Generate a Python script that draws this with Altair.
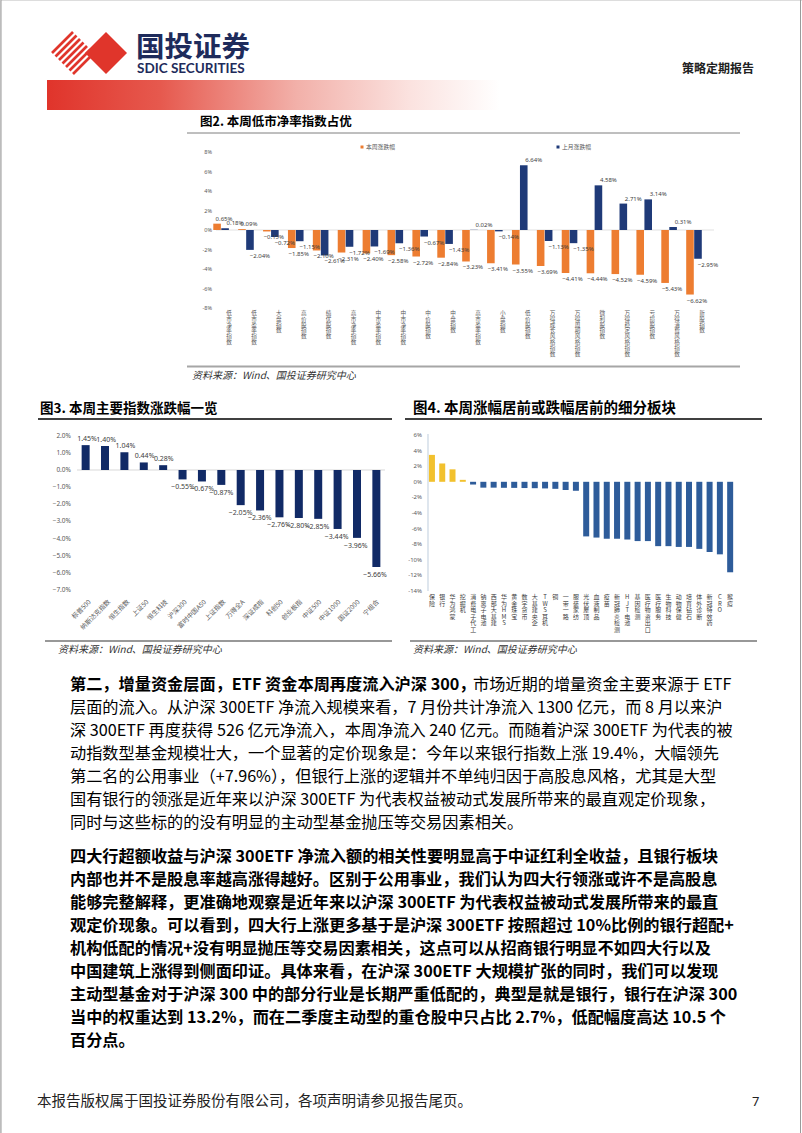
import altair as alt
import pandas as pd

W, H = 802, 1133
CJK = "Noto Sans CJK SC"
LAT = "Noto Sans"
ORANGE = "#ED7D31"
NAVY2 = "#1F3A78"
NAVY3 = "#112A66"
BLUE4 = "#2E5C9A"
GOLD4 = "#F2C12E"
LBL = "#404040"

# ---------------- data ----------------
c2_cats = ["低市净率指数", "低市盈率指数", "大盘指数", "高价股指数", "绩优股指数",
           "高市净率指数", "中市盈率指数", "中市净率指数", "中价股指数", "中盘指数",
           "高市盈率指数", "小盘指数", "低价股指数", "万得成长风格指数", "万得周期风格指数",
           "微利股指数", "万得稳定风格指数", "亏损股指数", "万得消费风格指数", "新股指数"]
c2_week = [0.65, 0.09, -0.15, -1.85, -2.10, -2.31, -2.40, -2.58, -2.72, -2.84,
           -3.23, -3.41, -3.55, -3.69, -4.41, -4.44, -4.52, -4.59, -5.43, -6.62]
c2_month = [0.18, -2.04, -0.72, -1.15, -2.61, -1.72, -1.69, -1.36, -0.67, -1.43,
            0.02, -0.14, 6.64, -1.13, -1.35, 4.58, 2.71, 3.14, 0.31, -2.95]
c2_ticks = [8, 6, 4, 2, 0, -2, -4, -6, -8]

c3_cats = ["标普500", "纳斯达克指数", "恒生指数", "上证50", "恒生科技", "沪深300",
           "富时中国A50", "上证指数", "万得全A", "深证成指", "科创50", "创业板指",
           "中证500", "中证1000", "国证2000", "宁组合"]
c3_vals = [1.45, 1.40, 1.04, 0.44, 0.28, -0.55, -0.67, -0.87, -2.05, -2.36,
           -2.76, -2.80, -2.85, -3.44, -3.96, -5.66]
c3_ticks = [2, 1, 0, -1, -2, -3, -4, -5, -6, -7]

c4_cats = ["保险", "银行", "华为鸿蒙", "挖掘机", "消费电子代工", "钠离子电池", "西部大基建",
           "华为HMS", "黄金珠宝", "数字货币", "大基建央企", "TWS耳机", "铜", "一带一路",
           "服装家纺", "光伏屋顶", "血液制品", "疫苗", "新冠肺炎检测", "HJT电池", "基因检测",
           "医疗物资出口", "医疗服务", "生物科技", "动物保健", "培育钻石", "体外诊断",
           "新冠特效药", "CRO", "猴痘"]
c4_vals = [3.45, 2.35, 1.6, 0.25, -0.35, -0.75, -0.75, -0.77, -0.78, -0.8, -0.82,
           -0.85, -0.9, -1.05, -1.15, -7.0, -7.15, -7.3, -7.3, -7.4, -7.6, -7.6,
           -8.25, -8.25, -8.35, -8.35, -8.6, -9.0, -9.3, -11.6]
c4_ticks = [6, 4, 2, 0, -2, -4, -6, -8, -10, -12, -14]

p1_bold = "第二，增量资金层面，ETF 资金本周再度流入沪深 300，"
p1_first = "市场近期的增量资金主要来源于 ETF"
p1_lines = [
    "层面的流入。从沪深 300ETF 净流入规模来看，7 月份共计净流入 1300 亿元，而 8 月以来沪",
    "深 300ETF 再度获得 526 亿元净流入，本周净流入 240 亿元。而随着沪深 300ETF 为代表的被",
    "动指数型基金规模壮大，一个显著的定价现象是：今年以来银行指数上涨 19.4%，大幅领先",
    "第二名的公用事业（+7.96%），但银行上涨的逻辑并不单纯归因于高股息风格，尤其是大型",
    "国有银行的领涨是近年来以沪深 300ETF 为代表权益被动式发展所带来的最直观定价现象，",
    "同时与这些标的的没有明显的主动型基金抛压等交易因素相关。",
]
p2_lines = [
    "四大行超额收益与沪深 300ETF 净流入额的相关性要明显高于中证红利全收益，且银行板块",
    "内部也并不是股息率越高涨得越好。区别于公用事业，我们认为四大行领涨或许不是高股息",
    "能够完整解释，更准确地观察是近年来以沪深 300ETF 为代表权益被动式发展所带来的最直",
    "观定价现象。可以看到，四大行上涨更多基于是沪深 300ETF 按照超过 10%比例的银行超配+",
    "机构低配的情况+没有明显抛压等交易因素相关，这点可以从招商银行明显不如四大行以及",
    "中国建筑上涨得到侧面印证。具体来看，在沪深 300ETF 大规模扩张的同时，我们可以发现",
    "主动型基金对于沪深 300 中的部分行业是长期严重低配的，典型是就是银行，银行在沪深 300",
    "当中的权重达到 13.2%，而在二季度主动型的重仓股中只占比 2.7%，低配幅度高达 10.5 个",
    "百分点。",
]

# ---------------- helpers ----------------
dummy = pd.DataFrame({"a": [0]})


def rule(x1, y1, x2, y2, color, w):
    return alt.Chart(dummy).mark_rule(color=color, strokeWidth=w).encode(
        x=alt.value(x1), y=alt.value(y1), x2=alt.value(x2), y2=alt.value(y2))


def text(s, x, y, size, color="#000000", weight="normal", align="left",
         baseline="alphabetic", font=CJK, style="normal", lh=None):
    kw = dict(align=align, baseline=baseline, fontSize=size, font=font,
              color=color, fontWeight=weight, fontStyle=style)
    if lh:
        kw["lineBreak"] = "\n"
        kw["lineHeight"] = lh
    return alt.Chart(pd.DataFrame({"t": [s]})).mark_text(**kw).encode(
        x=alt.value(x), y=alt.value(y), text="t:N")


layers = []

# ---------------- header ----------------
layers.append(rule(1, 0, 1, H, "#9a9a9a", 1))
layers.append(rule(800.5, 0, 800.5, H, "#9a9a9a", 1))

cx, cy, r = 73, 53, 21
for k in range(7):
    t = -r + 2 * r * k / 6
    u1, v1 = (t + r) / 2, (t - r) / 2
    u2, v2 = (t - r) / 2, (t + r) / 2
    layers.append(rule(cx + u1, cy + v1, cx + u2, cy + v2, "#E0352B", 2.6))
diamond = "M0,-1L1,0L0,1L-1,0Z"
layers.append(alt.Chart(dummy).mark_point(shape=diamond, filled=True, color="#E0352B",
                                           opacity=1, size=(2 * 21) ** 2).encode(
    x=alt.value(106), y=alt.value(53)))

layers.append(text("国投证券", 136, 57, 28.5, color="#1E2B5B", weight="bold"))
layers.append(text("SDIC SECURITIES", 137, 73, 13.5, color="#1E2B5B", weight="bold", font="Lato"))
layers.append(alt.Chart(dummy).mark_rect(
    color=alt.Gradient(gradient="linear", x1=0, x2=1, y1=0, y2=0,
                       stops=[alt.GradientStop(offset=0, color="#E0342B"),
                              alt.GradientStop(offset=0.25, color="#E6594E"),
                              alt.GradientStop(offset=0.55, color="#F2B0A9"),
                              alt.GradientStop(offset=0.8, color="#FBE2DF"),
                              alt.GradientStop(offset=1, color="#FFFFFF")])).encode(
    x=alt.value(47), x2=alt.value(500), y=alt.value(80), y2=alt.value(110)))
layers.append(text("策略定期报告", 682, 73, 12, color="#222222", weight="bold"))

# ---------------- chart 2 ----------------
layers.append(text("图2. 本周低市净率指数占优", 200, 126, 12.5, weight="bold"))
layers.append(rule(187, 133, 740, 133, "#7f7f7f", 1))
layers.append(rule(187, 366.5, 740, 366.5, "#a6a6a6", 2.2))
layers.append(text("资料来源：Wind、国投证券研究中心", 192, 379, 10, color="#333333", style="italic"))

df2 = pd.DataFrame({"cat": c2_cats, "week": c2_week, "month": c2_month})
df2["vlab"] = ["\n".join(c) for c in c2_cats]
X2 = alt.X("cat:N", scale=alt.Scale(domain=c2_cats, range=[216.6, 714.4],
                                    paddingInner=0.36, paddingOuter=0.18), axis=None)
S2 = alt.Scale(domain=[-8, 8], range=[308, 152], nice=False, zero=False)


def Y2(f):
    return alt.Y(f, scale=S2, axis=None)


base2 = alt.Chart(df2)
layers.append(alt.Chart(dummy).mark_rule(color="#d9d9d9", strokeWidth=0.8).encode(
    x=alt.value(216), x2=alt.value(714), y=alt.Y(datum=0, scale=S2, axis=None)))
layers.append(base2.mark_bar(color=ORANGE, width=7.6).encode(
    x=X2, xOffset=alt.value(-4), y=Y2("week:Q"), y2=alt.datum(0)))
layers.append(base2.mark_bar(color=NAVY2, width=7.6).encode(
    x=X2, xOffset=alt.value(4), y=Y2("month:Q"), y2=alt.datum(0)))
for fld, off in (("week", -5), ("month", 6)):
    layers.append(base2.transform_filter(f"datum.{fld} >= 0").transform_calculate(
        l=f"format(datum.{fld}, '.2f') + '%'").mark_text(
        fontSize=6, baseline="bottom", dy=-2, font=LAT, color=LBL).encode(
        x=X2, xOffset=alt.value(off), y=Y2(f"{fld}:Q"), text="l:N"))
    layers.append(base2.transform_filter(f"datum.{fld} < 0").transform_calculate(
        l=f"format(datum.{fld}, '.2f') + '%'").mark_text(
        fontSize=6, baseline="top", dy=3, font=LAT, color=LBL).encode(
        x=X2, xOffset=alt.value(off), y=Y2(f"{fld}:Q"), text="l:N"))
layers.append(alt.Chart(pd.DataFrame({"v": c2_ticks})).transform_calculate(
    l="datum.v + '%'").mark_text(align="right", baseline="middle", fontSize=5.5,
                                 font=LAT, color="#595959").encode(
    x=alt.value(212), y=Y2("v:Q"), text="l:N"))
layers.append(base2.mark_text(baseline="top", fontSize=5.6, lineBreak="\n", lineHeight=5.8,
                              font=CJK, color="#595959").encode(
    x=X2, y=alt.value(311), text="vlab:N"))
layers.append(alt.Chart(dummy).mark_square(color=ORANGE, size=9, opacity=1).encode(
    x=alt.value(362), y=alt.value(147)))
layers.append(text("本周涨跌幅", 366, 147, 5.8, color="#595959", baseline="middle"))
layers.append(alt.Chart(dummy).mark_square(color=NAVY2, size=9, opacity=1).encode(
    x=alt.value(558), y=alt.value(147)))
layers.append(text("上月涨跌幅", 562, 147, 5.8, color="#595959", baseline="middle"))

# ---------------- chart 3 ----------------
layers.append(text("图3. 本周主要指数涨跌幅一览", 40, 413, 13.5, weight="bold"))
layers.append(rule(38, 419, 392, 419, "#404040", 2))
layers.append(rule(45, 641, 392, 641, "#333333", 1.2))
layers.append(text("资料来源：Wind、国投证券研究中心", 58, 653, 10, color="#333333", style="italic"))

df3 = pd.DataFrame({"cat": c3_cats, "v": c3_vals})
X3 = alt.X("cat:N", scale=alt.Scale(domain=c3_cats, range=[77.4, 384.6],
                                    paddingInner=0.55, paddingOuter=0.2), axis=None)
S3 = alt.Scale(domain=[-7, 2], range=[590, 435.7], nice=False, zero=False)


def Y3(f):
    return alt.Y(f, scale=S3, axis=None)


base3 = alt.Chart(df3)
layers.append(alt.Chart(dummy).mark_rule(color="#d9d9d9", strokeWidth=1).encode(
    x=alt.value(77), x2=alt.value(385), y=alt.Y(datum=0, scale=S3, axis=None)))
layers.append(base3.mark_bar(color=NAVY3, width=8).encode(x=X3, y=Y3("v:Q"), y2=alt.datum(0)))
layers.append(base3.transform_filter("datum.v >= 0").transform_calculate(
    l="format(datum.v, '.2f') + '%'").mark_text(
    fontSize=7, baseline="bottom", dy=-3, font=LAT, color=LBL).encode(
    x=X3, y=Y3("v:Q"), text="l:N"))
layers.append(base3.transform_filter("datum.v < 0").transform_calculate(
    l="format(datum.v, '.2f') + '%'").mark_text(
    fontSize=7, baseline="top", dy=4, font=LAT, color=LBL).encode(
    x=X3, y=Y3("v:Q"), text="l:N"))
layers.append(alt.Chart(pd.DataFrame({"v": c3_ticks})).transform_calculate(
    l="format(datum.v, '.1f') + '%'").mark_text(align="right", baseline="middle", fontSize=6.5,
                                                font=LAT, color="#595959").encode(
    x=alt.value(71), y=Y3("v:Q"), text="l:N"))
layers.append(base3.mark_text(angle=315, align="right", baseline="middle", fontSize=6.5,
                              font=CJK, color="#595959").encode(
    x=X3, xOffset=alt.value(3), y=alt.value(601), text="cat:N"))

# ---------------- chart 4 ----------------
layers.append(text("图4. 本周涨幅居前或跌幅居前的细分板块", 413, 413, 14.5, weight="bold"))
layers.append(rule(405, 419, 762, 419, "#404040", 2))
layers.append(rule(410, 641, 757, 641, "#333333", 1.2))
layers.append(text("资料来源：Wind、国投证券研究中心", 413, 653, 10, color="#333333", style="italic"))

df4 = pd.DataFrame({"cat": c4_cats, "v": c4_vals})
df4["vlab"] = ["\n".join(c) for c in c4_cats]
X4 = alt.X("cat:N", scale=alt.Scale(domain=c4_cats, range=[426.9, 735.2],
                                    paddingInner=0.42, paddingOuter=0.2), axis=None)
S4 = alt.Scale(domain=[-14, 6], range=[591, 435], nice=False, zero=False)


def Y4(f):
    return alt.Y(f, scale=S4, axis=None)


base4 = alt.Chart(df4)
layers.append(rule(428, 434, 428, 591, "#c9d5e3", 1.2))
layers.append(base4.mark_bar(width=6).encode(
    x=X4, y=Y4("v:Q"), y2=alt.datum(0),
    color=alt.condition("datum.v >= 0", alt.value(GOLD4), alt.value(BLUE4))))
layers.append(alt.Chart(pd.DataFrame({"v": c4_ticks})).transform_calculate(
    l="datum.v + '%'").mark_text(align="right", baseline="middle", fontSize=6,
                                 font=LAT, color="#595959").encode(
    x=alt.value(422), y=Y4("v:Q"), text="l:N"))
layers.append(base4.mark_text(baseline="top", fontSize=6, lineBreak="\n", lineHeight=6.6,
                              font=CJK, color="#404040").encode(
    x=X4, y=alt.value(594), text="vlab:N"))

# ---------------- body text ----------------
BODY = 16.2
layers.append(text(p1_bold, 70, 690, BODY, weight="bold"))
layers.append(text(p1_first, 473, 690, BODY))
layers.append(text("\n".join(p1_lines), 70, 713, BODY, lh=23))
layers.append(text("\n".join(p2_lines), 70, 862, BODY, weight="bold", lh=23))

# ---------------- footer ----------------
layers.append(text("本报告版权属于国投证券股份有限公司，各项声明请参见报告尾页。", 37, 1106, 14.5,
                   color="#222222"))
layers.append(text("7", 752, 1106, 13, color="#222222", font=LAT))

chart = alt.layer(*layers).resolve_scale(x="independent", y="independent").properties(
    width=W, height=H, autosize="none", padding=0,
).configure_view(stroke=None).configure(background="white")

chart.save("out.html", embed_options={"renderer": "svg", "actions": False})
